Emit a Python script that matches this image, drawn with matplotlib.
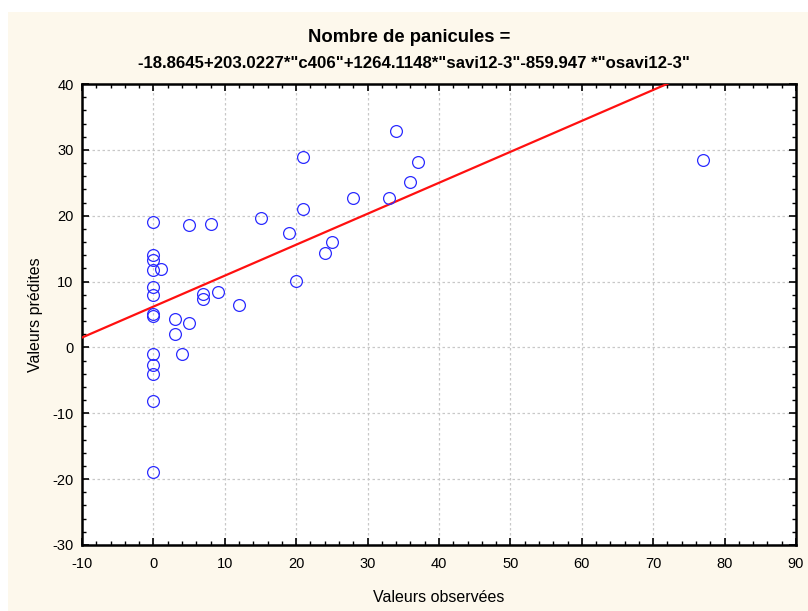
import matplotlib
matplotlib.use("Agg")
import matplotlib.pyplot as plt
import numpy as np
from matplotlib.ticker import MultipleLocator
from matplotlib.patches import Rectangle

plt.rcParams['font.family'] = ['Liberation Sans', 'DejaVu Sans']
plt.rcParams['axes.unicode_minus'] = False

observed = [0, 0, 0, 0, 0, 0, 0, 0, 0, 0, 0, 0, 0, 1,
            3, 3, 4, 5, 5, 7, 7, 8, 9, 12, 15, 19, 20, 21, 21,
            24, 25, 28, 33, 34, 36, 37, 77]
predicted = [19.1, 14.1, 13.2, 11.8, 9.2, 7.9, 5.1, 4.8, -1.0, -2.6, -4.0, -8.1, -18.9, 11.9,
             4.3, 2.0, -1.0, 18.6, 3.7, 8.1, 7.4, 18.8, 8.4, 6.4, 19.7, 17.4, 10.1, 28.9, 21.0,
             14.4, 16.0, 22.7, 22.7, 32.8, 25.1, 28.2, 28.4]
fit_intercept = 6.2
fit_slope = 0.47

title_line1 = "Nombre de panicules ="
title_line2 = "-18.8645+203.0227*\"c406\"+1264.1148*\"savi12-3\"-859.947 *\"osavi12-3\""
xlabel = "Valeurs observ\u00e9es"
ylabel = "Valeurs pr\u00e9dites"

W, H = 808, 611
fig = plt.figure(figsize=(W / 100, H / 100), dpi=100, facecolor='white')
fig.patches.append(Rectangle((8 / W, 0), 1, 1 - 12 / H, transform=fig.transFigure,
                             facecolor='#fdf8ec', edgecolor='none', zorder=-10))

left, right, top, bottom = 82, 796, 84, 545
ax = fig.add_axes([left / W, 1 - bottom / H, (right - left) / W, (bottom - top) / H])
ax.set_facecolor('white')

ax.set_xlim(-10, 90)
ax.set_ylim(-30, 40)
ax.xaxis.set_major_locator(MultipleLocator(10))
ax.xaxis.set_minor_locator(MultipleLocator(2))
ax.yaxis.set_major_locator(MultipleLocator(10))
ax.yaxis.set_minor_locator(MultipleLocator(2))
ax.tick_params(which='both', direction='in', top=True, right=True, labelsize=10.5, colors='black')
ax.tick_params(which='major', length=5, width=1.2)
ax.tick_params(which='minor', length=3, width=1.0)
ax.tick_params(axis='x', which='major', pad=9)
ax.tick_params(axis='y', which='major', pad=6)
for s in ax.spines.values():
    s.set_linewidth(1.8)
    s.set_color('black')
ax.grid(True, which='major', color='#c8c8c8', linestyle=(0, (2, 2)), linewidth=0.9)
ax.set_axisbelow(True)

xs = np.array(ax.get_xlim())
ax.plot(xs, fit_intercept + fit_slope * xs, color='#ff1010', linewidth=1.6, zorder=3)
ax.plot(observed, predicted, linestyle='none', marker='o', markersize=8.5,
        markerfacecolor='none', markeredgecolor='#2a2aff', markeredgewidth=0.9, zorder=4)

ax.set_xlabel(xlabel, fontsize=11.5, labelpad=13)
ax.set_ylabel(ylabel, fontsize=11.5, labelpad=7)

fig.text(409 / W, 1 - 38 / H, title_line1, ha='center', va='center', fontsize=13.3,
         fontweight='bold', family=['Liberation Sans Narrow', 'Liberation Sans'])
fig.text(414 / W, 1 - 63 / H, title_line2, ha='center', va='center', fontsize=12.1,
         fontweight='bold', family=['Liberation Sans Narrow', 'Liberation Sans'])

fig.savefig('out.png', dpi=100, facecolor=fig.get_facecolor())
